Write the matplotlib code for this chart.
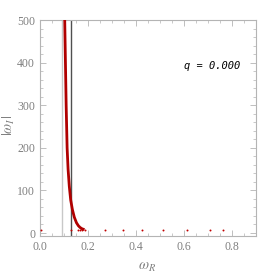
import matplotlib.pyplot as plt
from matplotlib.ticker import MultipleLocator

plt.rcParams['mathtext.fontset'] = 'stix'

# red curve (omega_R, |omega_I|)
curve_wr = [0.103, 0.106, 0.109, 0.113, 0.117, 0.122, 0.128, 0.135, 0.143, 0.152, 0.160, 0.167, 0.175, 0.180]
curve_wi = [500, 400, 300, 200, 150, 110, 77, 55, 37, 24, 17, 13, 10, 9]

# isolated points near the axis
dots_wr = [0.004, 0.128, 0.160, 0.167, 0.176, 0.187, 0.270, 0.345, 0.424, 0.514, 0.614, 0.708, 0.761]
dots_wi = [6, 6, 6, 7, 6, 6, 6, 6, 6, 6, 6, 6, 6]

# vertical reference lines
vline_light = 0.090
vline_dark = 0.128

label_txt = 'q = 0.000'

fig = plt.figure(figsize=(2.77, 2.73), dpi=100)
ax = fig.add_axes([40/277, 1 - 236/273, 216/277, 216/273])

ax.axvline(vline_light, color='#c8c8c8', lw=1.0, zorder=1)
ax.axvline(vline_dark, color='#505050', lw=1.0, zorder=1)
ax.plot(curve_wr, curve_wi, color='#b00000', lw=2.0, zorder=3)
ax.scatter(dots_wr, dots_wi, color='#c00000', s=2, zorder=4, linewidths=0)

ax.text(0.717, 393, label_txt, fontsize=7.5, family='DejaVu Sans Mono',
        style='italic', ha='center', va='center')

ax.set_xlim(0, 0.9)
ax.set_ylim(-7, 500)
ax.xaxis.set_major_locator(MultipleLocator(0.2))
ax.xaxis.set_minor_locator(MultipleLocator(0.05))
ax.yaxis.set_major_locator(MultipleLocator(100))
ax.yaxis.set_minor_locator(MultipleLocator(20))
ax.xaxis.set_major_formatter(plt.FuncFormatter(lambda v, p: f'{v:.1f}'))

for s in ax.spines.values():
    s.set_color('#b4b4b4')
    s.set_linewidth(0.8)
ax.tick_params(which='both', direction='in', top=True, right=True,
               color='#b4b4b4', labelcolor='#808080', labelsize=8.5)
ax.tick_params(which='major', length=4, width=0.6)
ax.tick_params(which='minor', length=2, width=0.5)
for lbl in ax.get_xticklabels() + ax.get_yticklabels():
    lbl.set_family('Liberation Serif')

ax.set_xlabel(r'$\omega_R$', color='#808080', fontsize=10.5)
ax.xaxis.set_label_coords(0.495, -0.105)
ax.set_ylabel(r'$|\omega_I|$', color='#808080', fontsize=10.5)
ax.yaxis.set_label_coords(-0.105, 0.51)

plt.savefig('out.png', dpi=100)
